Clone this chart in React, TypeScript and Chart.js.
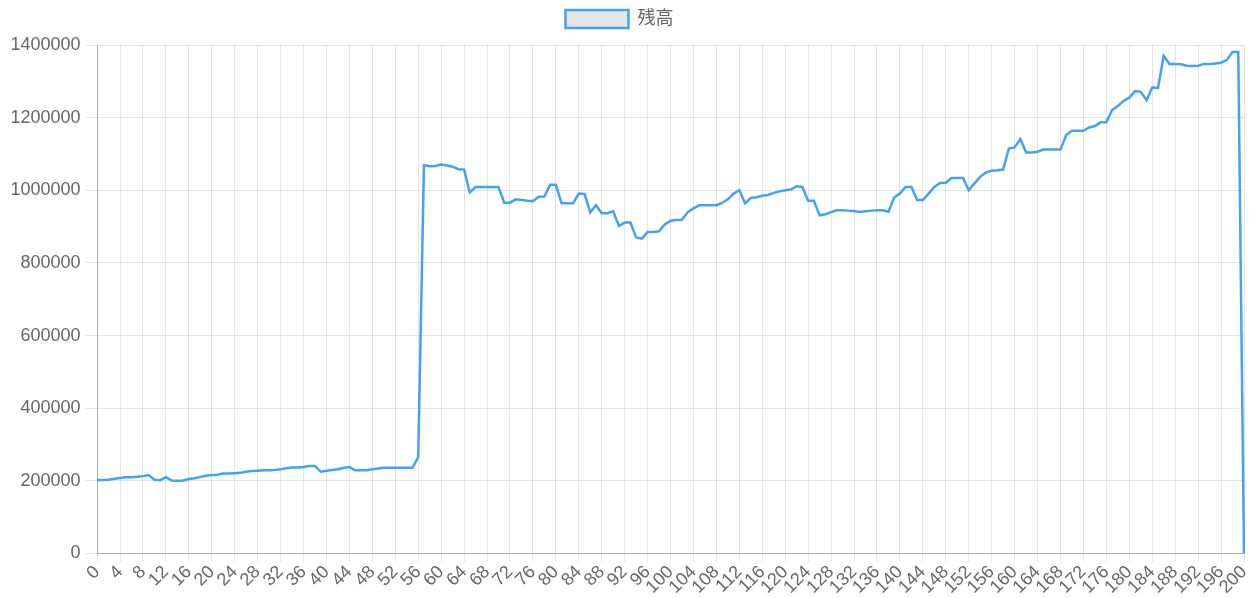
import React, { useEffect, useRef } from "react";
import { Chart, registerables } from "chart.js";

Chart.register(...registerables);

const seriesLabel = "残高";

const categories: string[] = Array.from({ length: 201 }, (_, i) => String(i));

const balance: number[] = [
  202000, 202000, 203000, 206000, 208000, 210000, 210000, 211000, 213000, 216000,
  203000, 202000, 210000, 201000, 200000, 201000, 205000, 207000, 211000, 214000,
  216000, 217000, 220000, 220000, 221000, 222000, 225000, 227000, 228000, 229000,
  229000, 230000, 232000, 235000, 237000, 237000, 238000, 241000, 241000, 225000,
  228000, 230000, 232000, 236000, 238000, 229000, 229000, 229000, 232000, 234000,
  236000, 236000, 236000, 236000, 236000, 236000, 265000, 1069000, 1066000, 1067000,
  1071000, 1068000, 1065000, 1058000, 1057000, 994000, 1009000, 1009000, 1009000, 1009000,
  1009000, 966000, 966000, 975000, 973000, 971000, 970000, 982000, 983000, 1015000,
  1015000, 964000, 964000, 964000, 991000, 990000, 939000, 959000, 937000, 937000,
  942000, 902000, 911000, 911000, 870000, 867000, 885000, 885000, 887000, 906000,
  916000, 918000, 919000, 940000, 950000, 959000, 959000, 959000, 959000, 965000,
  975000, 991000, 1000000, 964000, 979000, 981000, 985000, 987000, 993000, 997000,
  1000000, 1002000, 1011000, 1009000, 971000, 971000, 931000, 934000, 940000, 945000,
  945000, 944000, 943000, 940000, 942000, 944000, 945000, 945000, 941000, 980000,
  991000, 1009000, 1009000, 973000, 973000, 991000, 1009000, 1020000, 1021000, 1034000,
  1034000, 1034000, 1000000, 1019000, 1037000, 1049000, 1054000, 1055000, 1057000, 1115000,
  1118000, 1141000, 1104000, 1104000, 1106000, 1112000, 1112000, 1112000, 1112000, 1152000,
  1164000, 1164000, 1164000, 1173000, 1177000, 1187000, 1187000, 1221000, 1232000, 1246000,
  1255000, 1273000, 1271000, 1248000, 1283000, 1282000, 1370000, 1348000, 1348000, 1347000,
  1343000, 1342000, 1343000, 1348000, 1348000, 1349000, 1351000, 1359000, 1381000, 1381000,
  0,
];

const yMin = 0;
const yMax = 1400000;
const yStep = 200000;
const xLabelEvery = 4;

const legendTweak = {
  id: "legendTweak",
  beforeInit(chart: any) {
    const legend = chart.legend;
    if (!legend) return;
    const origFit = legend.fit;
    legend.fit = function () {
      origFit.call(this);
      this.height += 7;
    };
  },
  afterLayout(chart: any) {
    const legend = chart.legend;
    if (!legend) return;
    legend.left -= 11;
    legend.right -= 11;
  },
};

export default function App() {
  const canvasRef = useRef<HTMLCanvasElement | null>(null);

  useEffect(() => {
    if (!canvasRef.current) return;
    const font = { family: "'Liberation Sans', Arial, 'Noto Sans CJK JP', sans-serif", size: 18 };
    const chart = new Chart(canvasRef.current, {
      type: "line",
      data: {
        labels: categories,
        datasets: [
          {
            label: seriesLabel,
            data: balance,
            borderColor: "rgb(66, 162, 248)",
            backgroundColor: "rgba(0,0,0,0.1)",
            borderWidth: 2.5,
            pointRadius: 0,
            pointHoverRadius: 0,
            tension: 0,
            fill: false,
          },
        ],
      },
      options: {
        animation: false,
        responsive: true,
        maintainAspectRatio: false,
        layout: { padding: { left: 6, right: 0, top: 0, bottom: 0 } },
        plugins: {
          legend: {
            display: true,
            position: "top",
            labels: {
              boxWidth: 63,
              boxHeight: 18,
              padding: 10,
              color: "#666",
              font,
            },
          },
          tooltip: { enabled: false },
        },
        scales: {
          x: {
            afterFit: (scale: any) => {
              scale.paddingRight = 11;
            },
            grid: { color: "rgba(0,0,0,0.1)", tickLength: 8 },
            border: { color: "rgba(0,0,0,0.25)" },
            ticks: {
              autoSkip: false,
              minRotation: 45,
              maxRotation: 45,
              padding: 0,
              color: "#666",
              font,
              callback: (_v: any, i: number) => (i % xLabelEvery === 0 ? categories[i] : null),
            },
          },
          y: {
            min: yMin,
            max: yMax,
            grid: { color: "rgba(0,0,0,0.1)", tickLength: 12 },
            border: { color: "rgba(0,0,0,0.25)" },
            ticks: {
              stepSize: yStep,
              padding: 4.5,
              color: "#666",
              font,
              callback: (v: any) => String(v),
            },
          },
        },
      },
      plugins: [legendTweak],
    });
    return () => chart.destroy();
  }, []);

  return (
    <div style={{ position: "fixed", left: 0, top: 0, width: 1255, height: 598 }}>
      <canvas ref={canvasRef} />
    </div>
  );
}
